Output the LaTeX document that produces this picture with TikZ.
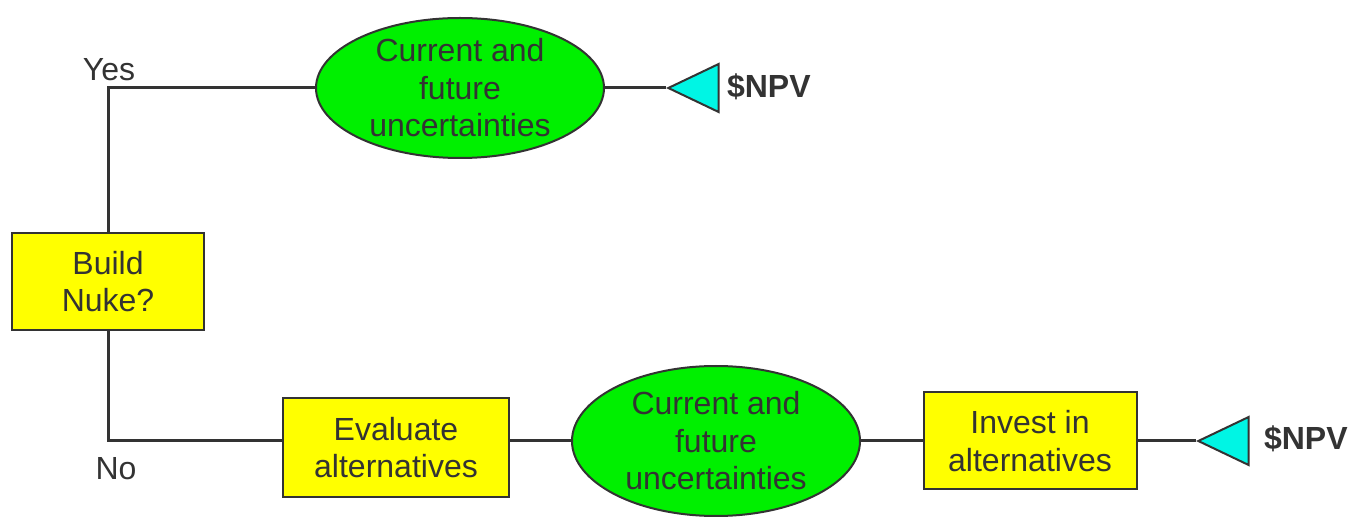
\documentclass[tikz,border=0pt]{standalone}
\usepackage{fontspec}
\setmainfont{Liberation Sans}
\usetikzlibrary{shapes.geometric, positioning}
\definecolor{ink}{HTML}{333333}
\definecolor{boxyellow}{HTML}{FFFF00}
\definecolor{chancegreen}{HTML}{00F000}
\definecolor{payoffcyan}{HTML}{00F5E4}
\tikzset{
  decision/.style={
    rectangle,
    draw=ink, line width=1pt, fill=boxyellow,
    text=ink, align=center, inner sep=0pt,
  },
  chance/.style={
    ellipse,
    minimum width=144pt,
    draw=ink, line width=1pt, fill=chancegreen,
    text=ink, align=center, inner xsep=0pt, inner ysep=-5pt,
  },
  payoff/.style={
    isosceles triangle, isosceles triangle apex angle=51,
    shape border rotate=180, minimum size=24pt, inner sep=0pt,
    draw=ink, line width=1pt, fill=payoffcyan, anchor=apex,
  },
  npvlabel/.style={anchor=west, text=ink, font=\bfseries\fontsize{16}{18}\selectfont},
  branch/.style={text=ink},
  link/.style={draw=ink, line width=1.5pt},
}

\begin{document}
\begin{tikzpicture}[x=0.5pt, y=-0.5pt, every node/.style={font=\fontsize{16}{18.75}\selectfont}]
  \useasboundingbox (0,0) rectangle (1351,518);

  \node[decision, minimum width=96pt, minimum height=48.5pt] (build) at (108,281.5) {Build\\Nuke?};
  \node[chance, minimum height=70pt] (unc1) at (460,88) {Current and\\future\\uncertainties};
  \node[payoff] (npv1) at (666,88) {};
  \node[npvlabel] (npv1lbl) at (720,87) {\$NPV};

  \node[decision, minimum width=113pt, minimum height=49.5pt] (evaluate) at (396,447.5) {Evaluate\\alternatives};
  \node[chance, minimum height=75pt] (unc2) at (716,441) {Current and\\future\\uncertainties};
  \node[decision, minimum width=106.5pt, minimum height=48.5pt] (invest) at (1030,441) {Invest in\\alternatives};
  \node[payoff] (npv2) at (1196,441) {};
  \node[npvlabel] (npv2lbl) at (1257,439) {\$NPV};

  \node[branch] (yes) at (109,70) {Yes};
  \node[branch] (no) at (116,469) {No};

  \draw[link] (build.north) |- (unc1.west);
  \draw[link] (unc1.east) -- (npv1.apex);
  \draw[link] (build.south) |- (evaluate.west |- unc2.west);
  \draw[link] (evaluate.east |- unc2.west) -- (unc2.west);
  \draw[link] (unc2.east) -- (invest.west);
  \draw[link] (invest.east) -- (npv2.apex);
\end{tikzpicture}
\end{document}
